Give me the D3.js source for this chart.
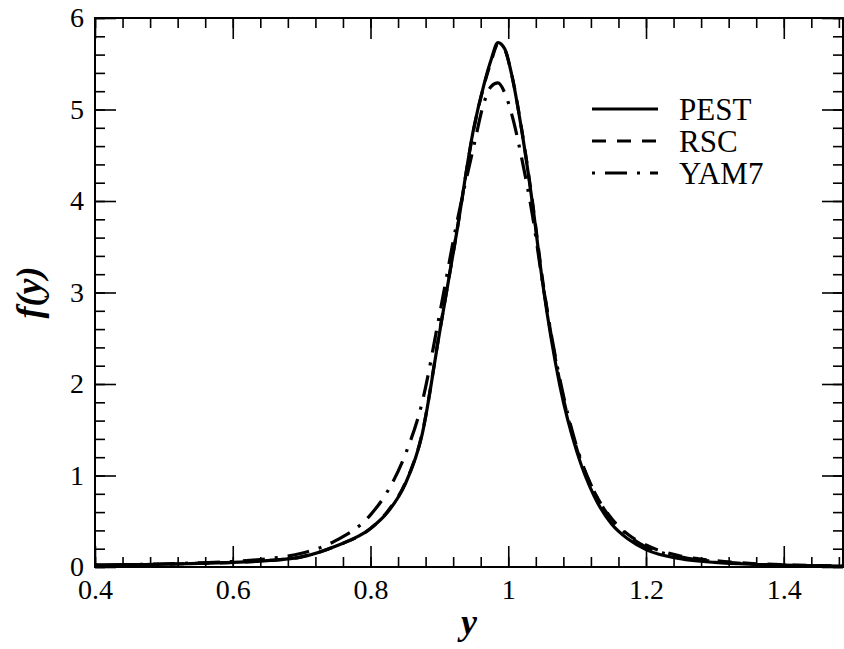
<!DOCTYPE html>
<html>
<head>
<meta charset="utf-8">
<script src="https://cdn.jsdelivr.net/npm/d3@7"></script>
<style>
  html, body { margin: 0; padding: 0; background: #fff; }
  svg { display: block; font-family: "Liberation Serif", "Times New Roman", serif; }
</style>
</head>
<body>
<div id="chart"></div>
<script>
// Probability density f(y) for three models

const xs = [0.40, 0.45, 0.50, 0.55, 0.60, 0.65, 0.70, 0.75, 0.80, 0.825, 0.85, 0.875,
            0.90, 0.925, 0.95, 0.965, 0.975, 0.985, 0.995, 1.005, 1.02, 1.035, 1.05,
            1.075, 1.10, 1.125, 1.15, 1.175, 1.20, 1.25, 1.30, 1.35, 1.40, 1.45, 1.486];

const pest = [0.02, 0.025, 0.03, 0.04, 0.05, 0.07, 0.11, 0.23, 0.42, 0.60, 0.90, 1.45,
              2.55, 3.65, 4.80, 5.28, 5.54, 5.73, 5.66, 5.38, 4.75, 3.98, 3.10,
              1.98, 1.25, 0.77, 0.47, 0.30, 0.19, 0.09, 0.05, 0.03, 0.02, 0.012, 0.01];

const rsc = [0.02, 0.025, 0.03, 0.04, 0.05, 0.07, 0.11, 0.23, 0.42, 0.61, 0.91, 1.46,
             2.56, 3.65, 4.79, 5.27, 5.52, 5.71, 5.65, 5.38, 4.76, 4.00, 3.13,
             2.02, 1.28, 0.82, 0.53, 0.35, 0.24, 0.12, 0.07, 0.04, 0.025, 0.015, 0.01];

const yam7 = [0.02, 0.025, 0.035, 0.045, 0.06, 0.09, 0.15, 0.29, 0.57, 0.83, 1.22, 1.80,
              2.75, 3.75, 4.60, 5.08, 5.25, 5.29, 5.18, 4.95, 4.45, 3.85, 3.10,
              2.05, 1.30, 0.82, 0.52, 0.34, 0.22, 0.11, 0.06, 0.035, 0.02, 0.012, 0.01];

const seriesNames = ['PEST', 'RSC', 'YAM7'];
const xTicks = [0.4, 0.6, 0.8, 1, 1.2, 1.4];
const yTicks = [0, 1, 2, 3, 4, 5, 6];

(function () {
    const W = 844, H = 649;
    const M = { top: 18, right: 1, bottom: 82, left: 95 };
    const iW = W - M.left - M.right;
    const iH = H - M.top - M.bottom;
    const FONT = '"Liberation Serif", "Times New Roman", serif';

    const svg = d3.select('#chart').append('svg')
        .attr('width', W).attr('height', H);
    const g = svg.append('g').attr('transform', `translate(${M.left},${M.top})`);

    const x = d3.scaleLinear().domain([0.4, 1.486]).range([0, iW]);
    const y = d3.scaleLinear().domain([0, 6]).range([iH, 0]);

    const fmt = d => String(+d.toFixed(1));
    const xMinor = d3.range(0.4, 1.4861, 0.04);
    const yMinor = d3.range(0, 6.001, 0.2);

    function styleAxis(sel) {
        sel.attr('font-family', FONT);
        sel.select('.domain').remove();
        sel.selectAll('line').attr('stroke', '#000').attr('stroke-width', 1.6);
        sel.selectAll('text').attr('fill', '#000').attr('font-size', 28)
            .attr('font-family', FONT);
    }

    // minor ticks, all four sides
    g.append('g').attr('transform', `translate(0,${iH})`)
        .call(d3.axisBottom(x).tickValues(xMinor).tickSize(-10).tickFormat('')).call(styleAxis);
    g.append('g')
        .call(d3.axisTop(x).tickValues(xMinor).tickSize(-10).tickFormat('')).call(styleAxis);
    g.append('g')
        .call(d3.axisLeft(y).tickValues(yMinor).tickSize(-10).tickFormat('')).call(styleAxis);
    g.append('g').attr('transform', `translate(${iW},0)`)
        .call(d3.axisRight(y).tickValues(yMinor).tickSize(-10).tickFormat('')).call(styleAxis);

    // major ticks + labels
    g.append('g').attr('transform', `translate(0,${iH})`)
        .call(d3.axisBottom(x).tickValues(xTicks).tickSize(-21).tickPadding(12).tickFormat(fmt))
        .call(styleAxis);
    g.append('g')
        .call(d3.axisTop(x).tickValues(xTicks).tickSize(-21).tickFormat('')).call(styleAxis);
    g.append('g')
        .call(d3.axisLeft(y).tickValues(yTicks).tickSize(-21).tickPadding(11).tickFormat(fmt))
        .call(styleAxis);
    g.append('g').attr('transform', `translate(${iW},0)`)
        .call(d3.axisRight(y).tickValues(yTicks).tickSize(-21).tickFormat('')).call(styleAxis);

    // frame
    g.append('rect').attr('x', 0).attr('y', 0).attr('width', iW).attr('height', iH)
        .attr('fill', 'none').attr('stroke', '#000').attr('stroke-width', 2);

    // curves
    const series = [
        { name: seriesNames[0], vals: pest, dash: null },
        { name: seriesNames[1], vals: rsc, dash: '14,11' },
        { name: seriesNames[2], vals: yam7, dash: '3,10,22,10' }
    ];
    const line = d3.line()
        .x(d => x(d[0])).y(d => y(d[1]))
        .curve(d3.curveMonotoneX);

    series.forEach(s => {
        g.append('path')
            .datum(xs.map((xv, i) => [xv, s.vals[i]]))
            .attr('d', line)
            .attr('fill', 'none').attr('stroke', '#000')
            .attr('stroke-width', 3.2)
            .attr('stroke-dasharray', s.dash);
    });

    // legend
    const lg = svg.append('g').attr('transform', 'translate(592,109)');
    series.forEach((s, i) => {
        lg.append('line').attr('x1', 0).attr('x2', 66)
            .attr('y1', i * 32).attr('y2', i * 32)
            .attr('stroke', '#000').attr('stroke-width', 3.2)
            .attr('stroke-dasharray', s.dash);
        lg.append('text').attr('x', 87).attr('y', i * 32 + 11)
            .attr('font-size', 31).attr('fill', '#000').text(s.name);
    });

    // axis titles
    svg.append('text').attr('x', M.left + iW / 2).attr('y', 634)
        .attr('text-anchor', 'middle').attr('font-size', 36)
        .attr('font-weight', 'bold').attr('font-style', 'italic').text('y');
    svg.append('text').attr('transform', 'rotate(-90)')
        .attr('x', -(M.top + iH / 2)).attr('y', 41)
        .attr('text-anchor', 'middle').attr('font-size', 36)
        .attr('font-weight', 'bold').attr('font-style', 'italic').text('f(y)');
})();
</script>
</body>
</html>
